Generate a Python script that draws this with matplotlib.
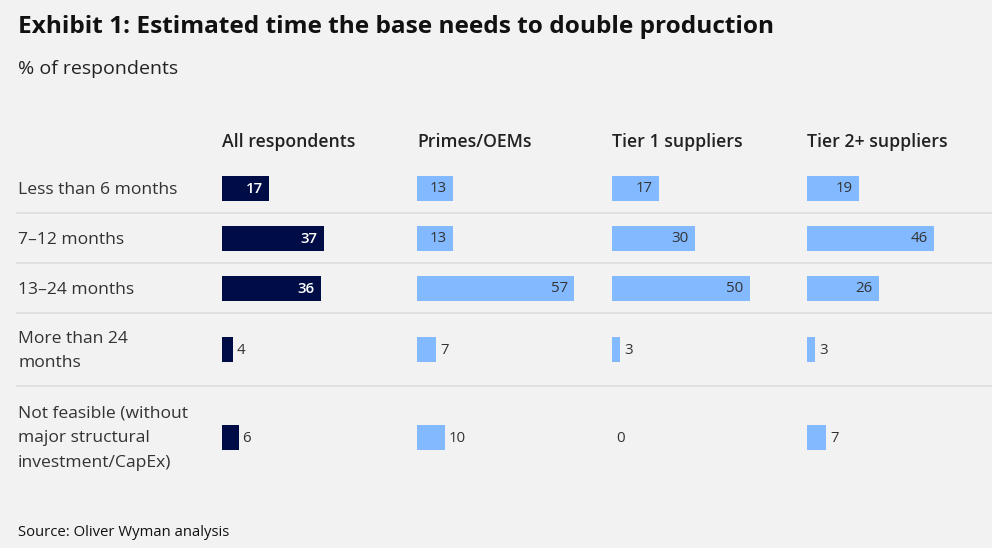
import matplotlib.pyplot as plt
from matplotlib.lines import Line2D

plt.rcParams["font.family"] = ["Open Sans", "DejaVu Sans"]

W, H = 992, 548
BG = "#f2f2f2"
NAVY = "#000c45"
LIGHT = "#82b9ff"
TEXT = "#333333"
GRID = "#dddddd"

# data
categories = [
    "Less than 6 months",
    "7\u201312 months",
    "13\u201324 months",
    "More than 24\nmonths",
    "Not feasible (without\nmajor structural\ninvestment/CapEx)",
]
groups = ["All respondents", "Primes/OEMs", "Tier 1 suppliers", "Tier 2+ suppliers"]
all_respondents = [17, 37, 36, 4, 6]
primes_oems = [13, 13, 57, 7, 10]
tier1_suppliers = [17, 30, 50, 3, 0]
tier2_suppliers = [19, 46, 26, 3, 7]
series = [all_respondents, primes_oems, tier1_suppliers, tier2_suppliers]

# layout in pixels
row_bounds = [163, 213, 263, 313, 386, 488]
row_centers = [(a + b) / 2 for a, b in zip(row_bounds[:-1], row_bounds[1:])]
panel_left = [222, 417, 612, 807]
panel_w = 185
px_per_unit = 2.75
bar_h = 25


def fx(px):
    return px / W


def fy(py):
    return 1 - py / H


fig = plt.figure(figsize=(W / 100, H / 100), dpi=100, facecolor=BG)

fig.text(fx(18), fy(27), "Exhibit 1: Estimated time the base needs to double production",
         fontsize=17.6, fontweight="bold", color="#111111", va="center", ha="left")
fig.text(fx(18), fy(69.5), "% of respondents", fontsize=14, color="#222222",
         va="center", ha="left")

for i, lab in enumerate(categories):
    fig.text(fx(18), fy(row_centers[i] + 1.5), lab, fontsize=12.6, color=TEXT,
             va="center", ha="left", linespacing=1.72)

for yb in row_bounds[1:-1]:
    fig.add_artist(Line2D([fx(17), 1], [fy(yb), fy(yb)], color=GRID, lw=1.2))

top, bottom = row_bounds[0], row_bounds[-1]
for j, (grp, vals) in enumerate(zip(groups, series)):
    ax = fig.add_axes([fx(panel_left[j]), fy(bottom), fx(panel_w), (bottom - top) / H])
    ax.set_facecolor("none")
    ax.set_xlim(0, panel_w / px_per_unit)
    ax.set_ylim(bottom, top)
    ax.axis("off")
    color = NAVY if j == 0 else LIGHT
    ax.barh(row_centers, vals, height=bar_h, color=color, left=0)
    pad = 2.2
    for y, v in zip(row_centers, vals):
        if v >= 13:
            ax.text(v - pad, y + 1, str(v), ha="right", va="center", fontsize=10.8,
                    color="white" if j == 0 else TEXT,
                    fontweight="semibold" if j == 0 else "normal")
        else:
            ax.text(v + 1.4, y + 1, str(v), ha="left", va="center", fontsize=10.8,
                    color=TEXT)
    fig.text(fx(panel_left[j]), fy(142), grp, fontsize=12.7, fontweight="semibold",
             color="#222222", va="center", ha="left")

fig.text(fx(18), fy(532), "Source: Oliver Wyman analysis", fontsize=10.7,
         color="#111111", va="center", ha="left")

fig.savefig("out.png", dpi=100, facecolor=BG)
